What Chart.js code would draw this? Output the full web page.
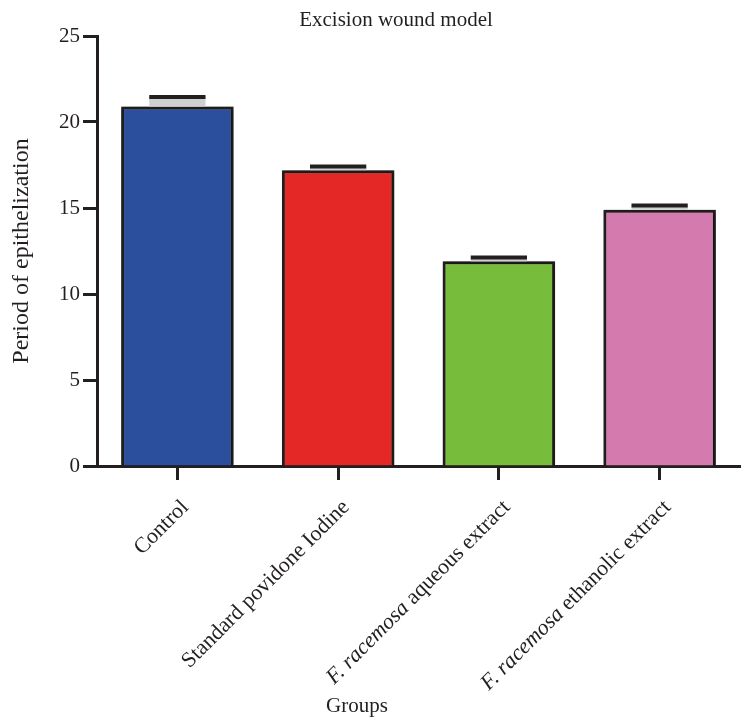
<!DOCTYPE html>
<html>
<head>
<meta charset="utf-8">
<script src="https://cdn.jsdelivr.net/npm/chart.js@4.4.1/dist/chart.umd.min.js"></script>
<style>
  body { margin: 0; background: #fff; }
  canvas { display: block; }
</style>
</head>
<body>
<canvas id="chart" width="756" height="727"></canvas>
<script>
const groups = ['Control', 'Standard povidone Iodine', 'F. racemosa aqueous extract', 'F. racemosa ethanolic extract'];
const epithelization = [20.9, 17.2, 11.9, 14.9];
const errors = [0.55, 0.22, 0.22, 0.24];
const barColors = ['#2b4f9d', '#e32825', '#77bc3b', '#d57aaf'];
const yTicks = [0, 5, 10, 15, 20, 25];
const italicPrefix = 'F. racemosa';
const chartTitle = 'Excision wound model';
const xTitle = 'Groups';
const yTitle = 'Period of epithelization';

const ink = '#231f20';
const serif = "'Liberation Serif', 'DejaVu Serif', serif";

// grey halo round the bars, then the upper error caps
const barDecor = {
  id: 'barDecor',
  beforeDatasetsDraw(chart) {
    const ctx = chart.ctx;
    ctx.save();
    ctx.shadowColor = 'rgba(0, 0, 0, 0.55)';
    ctx.shadowBlur = 4;
    ctx.shadowOffsetX = 1;
  },
  afterDatasetsDraw(chart) {
    const { ctx, scales: { y } } = chart;
    ctx.restore();
    ctx.save();
    chart.getDatasetMeta(0).data.forEach((bar, i) => {
      const top = y.getPixelForValue(epithelization[i] + errors[i]);
      const half = bar.width * 0.25;
      ctx.fillStyle = '#d0d0d0';
      ctx.fillRect(bar.x - half, top, half * 2, bar.y - top);
      ctx.strokeStyle = ink;
      ctx.lineWidth = 4;
      ctx.beginPath();
      ctx.moveTo(bar.x - half, top);
      ctx.lineTo(bar.x + half, top);
      ctx.stroke();
    });
    ctx.restore();
  }
};

// title, x axis title and the slanted group names (with italic species name)
const texts = {
  id: 'texts',
  afterDraw(chart) {
    const { ctx, scales: { x } } = chart;
    ctx.save();
    ctx.fillStyle = ink;
    ctx.textBaseline = 'middle';
    ctx.textAlign = 'center';
    ctx.font = `21px ${serif}`;
    ctx.fillText(chartTitle, 396, 20);
    ctx.fillText(xTitle, 357, 706);

    ctx.textAlign = 'left';
    groups.forEach((label, i) => {
      const parts = label.startsWith(italicPrefix)
        ? [[italicPrefix, 'italic '], [label.slice(italicPrefix.length), '']]
        : [[label, '']];
      let total = 0;
      parts.forEach(([t, style]) => {
        ctx.font = `${style}22px ${serif}`;
        total += ctx.measureText(t).width;
      });
      ctx.save();
      ctx.translate(x.getPixelForTick(i) + 8, 504);
      ctx.rotate(-Math.PI / 4);
      let pos = -total;
      parts.forEach(([t, style]) => {
        ctx.font = `${style}22px ${serif}`;
        ctx.fillText(t, pos, 0);
        pos += ctx.measureText(t).width;
      });
      ctx.restore();
    });
    ctx.restore();
  }
};

new Chart(document.getElementById('chart'), {
  type: 'bar',
  data: {
    labels: groups,
    datasets: [
      {
        data: epithelization,
        backgroundColor: barColors,
        borderColor: ink,
        borderWidth: 3,
        barPercentage: 0.7,
        categoryPercentage: 1,
      },
    ],
  },
  options: {
    responsive: false,
    animation: false,
    layout: { padding: { top: 36, right: 16, left: 0, bottom: 0 } },
    plugins: {
      legend: { display: false },
      tooltip: { enabled: false },
    },
    scales: {
      x: {
        afterFit: (scale) => { scale.height = 261; },
        border: { color: ink, width: 3 },
        grid: { offset: false, drawOnChartArea: false, drawTicks: true, tickLength: 14, tickWidth: 3, tickColor: ink },
        ticks: { callback: () => '', autoSkip: false, maxRotation: 0 },
      },
      y: {
        min: 0,
        max: 25,
        afterBuildTicks: (scale) => { scale.ticks = yTicks.map((v) => ({ value: v })); },
        afterFit: (scale) => { scale.width = 97; },
        border: { color: ink, width: 3 },
        grid: { drawOnChartArea: false, drawTicks: true, tickLength: 14, tickWidth: 3, tickColor: ink },
        ticks: { font: { family: serif, size: 21 }, color: ink, padding: 3 },
        title: {
          display: true,
          text: yTitle,
          font: { family: serif, size: 24 },
          color: ink,
          padding: { top: 7, bottom: 0 },
        },
      },
    },
  },
  plugins: [barDecor, texts],
});
</script>
</body>
</html>
